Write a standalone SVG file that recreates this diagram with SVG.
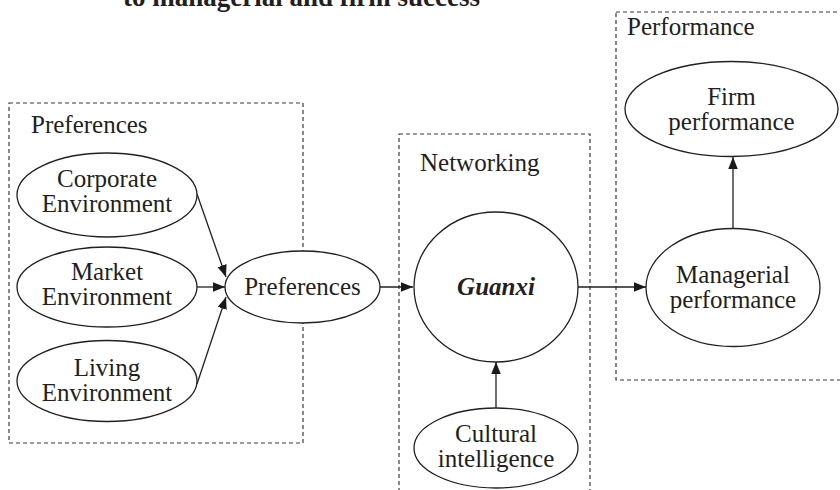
<svg xmlns="http://www.w3.org/2000/svg" width="840" height="490" viewBox="0 0 840 490">
  <defs>
    <marker id="arrow" markerUnits="userSpaceOnUse" markerWidth="13" markerHeight="10" refX="12" refY="4.75" orient="auto">
      <path d="M0,0 L12,4.75 L0,9.5 Z" fill="#1a1a1a"/>
    </marker>
    <style>
      text { font-family: "Liberation Serif", "Times New Roman", serif; font-size: 25px; fill: #231f20; }
      .c { text-anchor: middle; }
      .title { font-weight: bold; font-size: 27px; }
      .gx { font-weight: bold; font-style: italic; }
      .group { fill: none; stroke: #3a3a3a; stroke-width: 1.2; stroke-dasharray: 4 3; }
      .node { fill: #ffffff; stroke: #231f20; stroke-width: 1.3; }
      .link { fill: none; stroke: #231f20; stroke-width: 1.3; marker-end: url(#arrow); }
    </style>
  </defs>

  <rect width="840" height="490" fill="#ffffff"/>

  <!-- caption running off the top edge -->
  <text class="title" x="123" y="6">to managerial and firm success</text>

  <!-- dashed grouping frames -->
  <g id="frame-preferences">
    <rect class="group" x="9" y="103" width="294" height="340"/>
    <text x="31" y="133">Preferences</text>
  </g>
  <g id="frame-networking">
    <rect class="group" x="399" y="134" width="191" height="380"/>
    <text x="420" y="171">Networking</text>
  </g>
  <g id="frame-performance">
    <rect class="group" x="616" y="12" width="240" height="368"/>
    <text x="627" y="35">Performance</text>
  </g>

  <!-- connectors -->
  <g id="connectors">
    <line class="link" x1="197" y1="194" x2="226" y2="277"/>
    <line class="link" x1="197" y1="287" x2="225" y2="287"/>
    <line class="link" x1="197" y1="384" x2="226" y2="297"/>
    <line class="link" x1="380" y1="287" x2="413" y2="287"/>
    <line class="link" x1="496" y1="408" x2="496" y2="362"/>
    <line class="link" x1="578" y1="287" x2="646" y2="287"/>
    <line class="link" x1="733" y1="228" x2="733" y2="157"/>
  </g>

  <!-- nodes -->
  <g id="corporate-environment">
    <ellipse class="node" cx="107" cy="195" rx="90" ry="42"/>
    <text class="c" x="107" y="187">Corporate</text>
    <text class="c" x="107" y="212">Environment</text>
  </g>
  <g id="market-environment">
    <ellipse class="node" cx="107" cy="287" rx="90" ry="40"/>
    <text class="c" x="107" y="280">Market</text>
    <text class="c" x="107" y="305">Environment</text>
  </g>
  <g id="living-environment">
    <ellipse class="node" cx="107" cy="381" rx="90" ry="40.5"/>
    <text class="c" x="107" y="376">Living</text>
    <text class="c" x="107" y="401">Environment</text>
  </g>
  <g id="preferences">
    <ellipse class="node" cx="302.5" cy="287" rx="77.5" ry="36"/>
    <text class="c" x="302.5" y="295">Preferences</text>
  </g>
  <g id="guanxi">
    <ellipse class="node" cx="496" cy="287" rx="82" ry="75"/>
    <text class="c gx" x="496" y="295">Guanxi</text>
  </g>
  <g id="cultural-intelligence">
    <ellipse class="node" cx="496" cy="448" rx="82" ry="40"/>
    <text class="c" x="496" y="442">Cultural</text>
    <text class="c" x="496" y="467">intelligence</text>
  </g>
  <g id="managerial-performance">
    <ellipse class="node" cx="733" cy="287.5" rx="87" ry="59"/>
    <text class="c" x="733" y="283">Managerial</text>
    <text class="c" x="733" y="308">performance</text>
  </g>
  <g id="firm-performance">
    <ellipse class="node" cx="731.5" cy="109" rx="106.5" ry="47.5"/>
    <text class="c" x="731.5" y="105">Firm</text>
    <text class="c" x="731.5" y="130">performance</text>
  </g>
</svg>
